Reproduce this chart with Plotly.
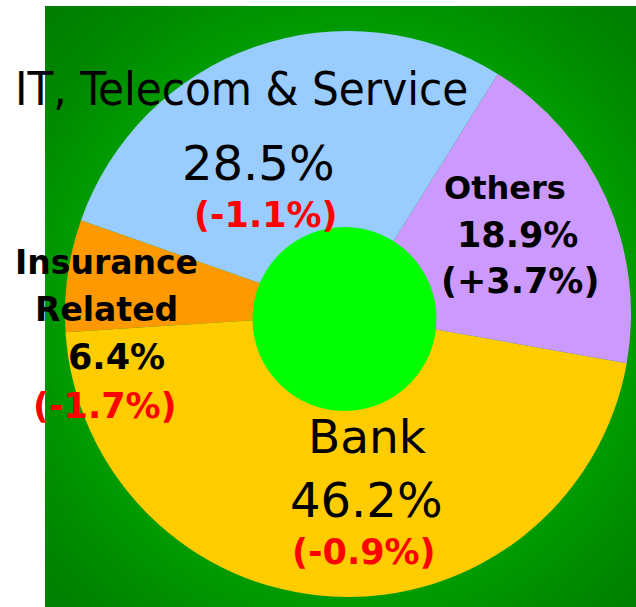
import base64
import plotly.graph_objects as go

W, H = 636, 607

# slice data, clockwise from the Others/Bank boundary
sectors = ['Bank', 'Insurance Related', 'IT, Telecom & Service', 'Others']
share = [46.2, 6.4, 28.5, 18.9]            # % of total
change = [-0.9, -1.7, -1.1, 3.7]           # change in percentage points
colors = ['#FFCC00', '#FF9900', '#99CCFF', '#CC99FF']
name_lines = [['Bank'], ['Insurance', 'Related'], ['IT, Telecom & Service'], ['Others']]


def px(x, y):
    return x / W, 1 - y / H


def green_background(w, h, cx, cy):
    svg = (
        f'<svg xmlns="http://www.w3.org/2000/svg" width="{w}" height="{h}" '
        f'viewBox="0 0 {w} {h}" preserveAspectRatio="none">'
        f'<defs><radialGradient id="g" cx="{cx}" cy="{cy}" r="430" gradientUnits="userSpaceOnUse">'
        '<stop offset="0" stop-color="#00b800"/><stop offset="0.62" stop-color="#00a000"/>'
        '<stop offset="0.8" stop-color="#008c00"/><stop offset="1" stop-color="#007c00"/>'
        '</radialGradient></defs>'
        f'<rect width="{w}" height="{h}" fill="url(#g)"/></svg>'
    )
    return 'data:image/svg+xml;base64,' + base64.b64encode(svg.encode()).decode()


fig = go.Figure()

# pie placement (pixels): centre (348, 314), radius 283
x0, y0 = px(65, 31)
x1, y1 = px(631, 597)
fig.add_trace(go.Pie(
    labels=sectors, values=share, sort=False, direction='clockwise',
    rotation=100, hole=0.3, textinfo='none', hoverinfo='label+percent',
    marker=dict(colors=colors, line=dict(width=0)),
    domain=dict(x=[x0, x1], y=[y1, y0]), showlegend=False))

# label layout per slice: (x, y, size, bold) for name lines, value, change
REG = 'DejaVu Sans'
COND = 'DejaVu Sans Condensed, DejaVu Sans'
label_layout = {
    'Bank': dict(names=[(367, 436, 47, False, REG)],
                 value=(366, 500, 48, False), delta=(364, 552, 35)),
    'Insurance Related': dict(names=[(106, 263, 33, True, REG), (106, 309, 33, True, REG)],
                              value=(117, 357, 35, True), delta=(105, 406, 35)),
    'IT, Telecom & Service': dict(names=[(241, 89, 47, False, COND)],
                                  value=(258, 163, 48, False), delta=(266, 215, 35)),
    'Others': dict(names=[(505, 188, 32, True, REG)],
                   value=(517, 235, 35, True), delta=(520, 281, 35)),
}


def add_text(text, x, y, size, bold, family=REG, color='black'):
    ax, ay = px(x, y)
    fig.add_annotation(
        x=ax, y=ay, xref='paper', yref='paper', text=text, showarrow=False,
        xanchor='center', yanchor='middle',
        font=dict(family=family, size=size, color=color,
                  weight='bold' if bold else 'normal'))


for name, lines, val, d in zip(sectors, name_lines, share, change):
    spec = label_layout[name]
    for line, (x, y, size, bold, fam) in zip(lines, spec['names']):
        add_text(line, x, y, size, bold, fam)
    x, y, size, bold = spec['value']
    add_text(f'{val:.1f}%', x, y, size, bold)
    x, y, size = spec['delta']
    add_text(f'({d:+.1f}%)', x, y, size, True,
             color='#FF0000' if d < 0 else 'black')

# bright green centre of the donut
hx0, hy0 = px(344.5 - 92, 319 - 92)
hx1, hy1 = px(344.5 + 92, 319 + 92)
fig.add_shape(type='circle', xref='paper', yref='paper',
              x0=hx0, x1=hx1, y0=hy1, y1=hy0,
              fillcolor='#00FF00', line=dict(width=0), layer='above')

bx, by = px(45, 6)
fig.add_layout_image(
    source=green_background(591, 601, 303, 308), xref='paper', yref='paper',
    x=bx, y=by, sizex=591 / W, sizey=601 / H, sizing='stretch',
    xanchor='left', yanchor='top', layer='below')

fig.update_layout(
    width=W, height=H, margin=dict(l=0, r=0, t=0, b=0),
    paper_bgcolor='white', plot_bgcolor='white')

# drop the page's default body margin so the figure sits at (0, 0)
fig.write_html('out.html', config={'displayModeBar': False},
               post_script="document.body.style.margin='0';")
